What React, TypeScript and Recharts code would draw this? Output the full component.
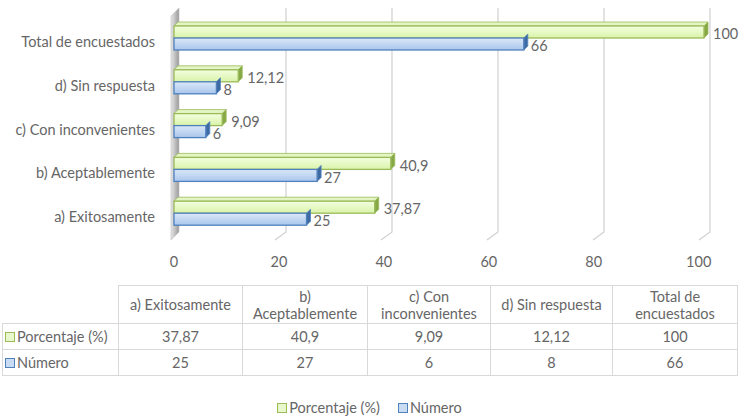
import React from 'react';
import { BarChart, Bar, XAxis, YAxis, CartesianGrid, LabelList } from 'recharts';

const categories = ['a) Exitosamente', 'b) Aceptablemente', 'c) Con inconvenientes', 'd) Sin respuesta', 'Total de encuestados'];
const tableHeaders = [['a) Exitosamente'], ['b)', 'Aceptablemente'], ['c) Con', 'inconvenientes'], ['d) Sin respuesta'], ['Total de', 'encuestados']];
const porcentaje = [37.87, 40.9, 9.09, 12.12, 100];
const numero = [25, 27, 6, 8, 66];
const xTicks = [0, 20, 40, 60, 80, 100];

const FONT = 'Lato, "Open Sans", sans-serif';
const TEXT = '#666666';
const FS = 14.5;
const GREEN = { stroke: '#9bbb59', side: '#86a847', top: '#e4f5c4' };
const BLUE = { stroke: '#4f81bd', side: '#3d6aa3', top: '#d3e2f5' };

const data = categories.map((name, i) => ({ name, porcentaje: porcentaje[i], numero: numero[i] }));

const fmt = (v: any) => String(v).replace('.', ',');

// barra con un poco de efecto 3D
const Bar3D = (props: any) => {
    const { x, y, width, height, col, gradId, showTop } = props;
    if (!width || width <= 0) return null;
    const d = 4;
    const w = width;
    const h = height;
    return (
        <g>
            {showTop && (
                <polygon
                    points={`${x},${y} ${x + d},${y - d} ${x + w + d},${y - d} ${x + w},${y}`}
                    fill={col.top}
                    stroke={col.stroke}
                    strokeWidth={0.8}
                />
            )}
            <polygon
                points={`${x + w},${y} ${x + w + d},${y - d} ${x + w + d},${y + h - d} ${x + w},${y + h}`}
                fill={col.side}
                stroke={col.stroke}
                strokeWidth={0.8}
            />
            <rect x={x} y={y} width={w} height={h} fill={`url(#${gradId})`} stroke={col.stroke} strokeWidth={1.3} />
        </g>
    );
};

const GridLine = (props: any) => {
    const { x1, index } = props;
    const top = 8;
    const bottom = 232;
    if (Math.abs(x1 - 174) < 2) {
        return (
            <polygon
                key={`g-${index}`}
                points={`${x1 - 3},${top + 8} ${x1 + 5},${top} ${x1 + 5},${bottom} ${x1 - 3},${bottom + 8}`}
                fill="url(#wallGrad)"
                stroke="#bfbfbf"
                strokeWidth={0.6}
            />
        );
    }
    return (
        <path
            key={`g-${index}`}
            d={`M${x1 + 6},${top} L${x1 + 6},${bottom} L${x1 - 5},${bottom + 8}`}
            fill="none"
            stroke="#d0d0d0"
            strokeWidth={1.2}
        />
    );
};

const XTick = (props: any) => {
    const { x, payload } = props;
    return (
        <text x={x - (x - 174) * 0.01} y={267} textAnchor="middle" fill={TEXT} fontSize={FS} fontFamily={FONT}>
            {payload.value}
        </text>
    );
};

const YTick = (props: any) => {
    const { y, payload } = props;
    return (
        <text x={155} y={y + 9} textAnchor="end" fill={TEXT} fontSize={FS} fontFamily={FONT}>
            {payload.value}
        </text>
    );
};

const Marker = ({ col, fill }: { col: string; fill: string }) => (
    <span
        style={{
            display: 'inline-block',
            width: 8,
            height: 8,
            border: `1px solid ${col}`,
            background: fill,
            marginRight: 2,
            verticalAlign: 'middle',
            position: 'relative',
            top: -1,
        }}
    />
);

const colWidths = [116, 124, 125, 123, 122, 125];
const cell: React.CSSProperties = {
    border: '1px solid #d9d9d9',
    padding: 0,
    textAlign: 'center',
    verticalAlign: 'middle',
    lineHeight: '17px',
};

const App = () => {
    return (
        <div style={{ position: 'absolute', left: 0, top: 0, width: 739, height: 417, background: '#fff' }}>
            <svg width={0} height={0} style={{ position: 'absolute' }}>
                <defs>
                    <linearGradient id="greenGrad" x1="0" y1="0" x2="0" y2="1">
                        <stop offset="0%" stopColor="#f3ffe0" />
                        <stop offset="100%" stopColor="#d9f3a9" />
                    </linearGradient>
                    <linearGradient id="blueGrad" x1="0" y1="0" x2="0" y2="1">
                        <stop offset="0%" stopColor="#dbe8f8" />
                        <stop offset="100%" stopColor="#a9c6ec" />
                    </linearGradient>
                    <linearGradient id="wallGrad" x1="0" y1="0" x2="1" y2="0">
                        <stop offset="0%" stopColor="#e6e6e6" />
                        <stop offset="100%" stopColor="#9a9a9a" />
                    </linearGradient>
                </defs>
            </svg>

            <BarChart
                width={739}
                height={417}
                data={data}
                layout="vertical"
                margin={{ top: 16, right: 35, bottom: 152, left: 0 }}
                barGap={0}
                barSize={12}
            >
                <CartesianGrid horizontal={false} vertical={GridLine} />
                <XAxis
                    type="number"
                    domain={[0, 100]}
                    ticks={xTicks}
                    axisLine={false}
                    tickLine={false}
                    height={30}
                    tick={XTick}
                />
                <YAxis
                    type="category"
                    dataKey="name"
                    reversed
                    width={174}
                    axisLine={false}
                    tickLine={false}
                    tick={YTick}
                    interval={0}
                />
                <Bar
                    dataKey="porcentaje"
                    name="Porcentaje (%)"
                    isAnimationActive={false}
                    shape={(p: any) => <Bar3D {...p} col={GREEN} gradId="greenGrad" showTop />}
                >
                    <LabelList dataKey="porcentaje" position="right" offset={9} dy={2} formatter={fmt} fill={TEXT} fontSize={FS} fontFamily={FONT} />
                </Bar>
                <Bar
                    dataKey="numero"
                    name="Número"
                    isAnimationActive={false}
                    shape={(p: any) => <Bar3D {...p} col={BLUE} gradId="blueGrad" />}
                >
                    <LabelList dataKey="numero" position="right" offset={7} dy={2} formatter={fmt} fill={TEXT} fontSize={FS} fontFamily={FONT} />
                </Bar>
            </BarChart>

            {/* tabla de datos */}
            <table
                style={{
                    position: 'absolute',
                    left: 2,
                    top: 285,
                    width: 735,
                    borderCollapse: 'collapse',
                    tableLayout: 'fixed',
                    fontFamily: FONT,
                    fontSize: FS,
                    color: TEXT,
                }}
            >
                <colgroup>
                    {colWidths.map((w, i) => (
                        <col key={i} style={{ width: w }} />
                    ))}
                </colgroup>
                <tbody>
                    <tr style={{ height: 38 }}>
                        <td style={{ ...cell, border: 'none' }} />
                        {tableHeaders.map((lines, i) => (
                            <td key={i} style={cell}>
                                {lines.map((l, j) => (
                                    <div key={j}>{l}</div>
                                ))}
                            </td>
                        ))}
                    </tr>
                    <tr style={{ height: 26 }}>
                        <td style={{ ...cell, textAlign: 'left', paddingLeft: 2 }}>
                            <Marker col={GREEN.stroke} fill="#e8f8cc" />
                            Porcentaje (%)
                        </td>
                        {porcentaje.map((v, i) => (
                            <td key={i} style={cell}>
                                {fmt(v)}
                            </td>
                        ))}
                    </tr>
                    <tr style={{ height: 26 }}>
                        <td style={{ ...cell, textAlign: 'left', paddingLeft: 2 }}>
                            <Marker col={BLUE.stroke} fill="#c9dcf3" />
                            Número
                        </td>
                        {numero.map((v, i) => (
                            <td key={i} style={cell}>
                                {v}
                            </td>
                        ))}
                    </tr>
                </tbody>
            </table>

            {/* leyenda */}
            <div
                style={{
                    position: 'absolute',
                    top: 399,
                    left: 0,
                    width: 739,
                    textAlign: 'center',
                    fontFamily: FONT,
                    fontSize: FS,
                    color: TEXT,
                }}
            >
                <span style={{ marginRight: 18 }}>
                    <Marker col={GREEN.stroke} fill="#e8f8cc" />
                    Porcentaje (%)
                </span>
                <span>
                    <Marker col={BLUE.stroke} fill="#c9dcf3" />
                    Número
                </span>
            </div>
        </div>
    );
};

export default App;
